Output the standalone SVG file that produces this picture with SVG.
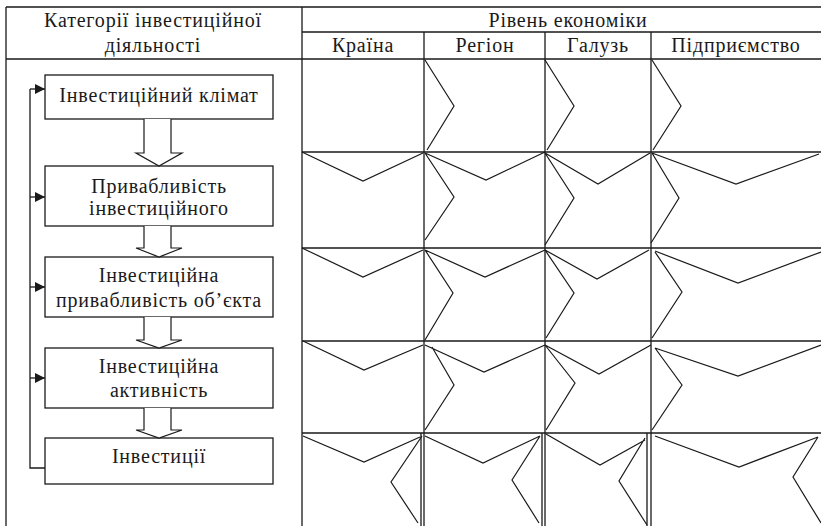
<svg xmlns="http://www.w3.org/2000/svg" width="821" height="526" viewBox="0 0 821 526">
<style>
.t{font-family:'Liberation Serif','DejaVu Serif',serif;font-size:20px;letter-spacing:0.8px;fill:#1a1a1a;text-anchor:middle}
.ln{stroke:#1a1a1a;stroke-width:1.3;fill:none}
.box{fill:#fff;stroke:#1a1a1a;stroke-width:1.3}
.ha{fill:#fff;stroke:#1a1a1a;stroke-width:1.2}
.sh{fill:none;stroke:#1a1a1a;stroke-width:1.2;stroke-linejoin:miter}
</style>
<defs>
<marker id="ah" markerWidth="10" markerHeight="10" refX="10" refY="5" orient="auto" markerUnits="userSpaceOnUse">
<path d="M0,0 L10,5 L0,10 Z" fill="#1a1a1a"/>
</marker>
</defs>
<rect width="821" height="526" fill="#fff"/>
<g id="table">
<path class="ln" d="M6,7 H821 M6,7 V526 M6,59 H821 M302,7 V526 M302,32 H821 M424,32 V59 M545,32 V59 M651,32 V59"/>
<text class="t" x="153" y="27">Категорії інвестиційної</text>
<text class="t" x="153" y="52">діяльності</text>
<text class="t" x="568" y="27">Рівень економіки</text>
<text class="t" x="363" y="52">Країна</text>
<text class="t" x="485" y="52">Регіон</text>
<text class="t" x="598" y="52">Галузь</text>
<text class="t" x="736" y="52">Підприємство</text>
</g>
<g id="grid">
<path class="ln" d="M424,59 V433 M545,59 V433 M651,59 V433 M302,152 H821 M302,248 H821 M302,341 H821 M302,433 H821"/>
<path class="ln" d="M421,433 V526 M424,433 V526 M542,433 V526 M545,433 V526 M647,433 V526 M651,433 V526"/>
<path class="sh" d="M425,60 L454,106 L427,150 M545,60 L574,106 L547,150 M652,60 L681,106 L653,150"/>
<path class="sh" d="M302,152 L363,181 L423,153 M425,153 L486,180 L545,152 M425,153 L454,197 L425,240 M545,153 L574,198 L545,245 M545,153 L598,184 L650,153 M652,153 L679,198 L651,243 M652,153 L736,184 L819,154"/>
<path class="sh" d="M302,248 L363,277 L423,250 M425,250 L485,277 L545,250 M425,250 L453,293 L425,340 M545,250 L574,293 L546,338 M545,250 L597,279 L649,250 M655,251 L738,283 L821,252 M655,252 L682,292 L652,338"/>
<path class="sh" d="M303,341 L364,370 L423,345 M425,345 L484,372 L545,345 M432,347 L454,385 L425,430 M545,345 L575,383 L546,430 M545,345 L599,374 L651,345 M655,348 L682,385 L652,430 M655,348 L738,376 L821,345"/>
<path class="sh" d="M303,436 L364,462 L420,437 M422,436 L391,482 L418,523 M425,436 L483,463 L540,436 M540,436 L512,480 L539,523 M546,434 L600,465 L645,440 M645,438 L619,481 L647,525 M655,436 L739,467 L818,437 M818,437 L793,477 L821,523"/>
</g>
<g id="n1"><rect class="box" x="45" y="75" width="228" height="44"/><text class="t" x="159" y="102">Інвестиційний клімат</text></g>
<g id="n2"><rect class="box" x="45" y="166" width="228" height="60"/><text class="t" x="159" y="193">Привабливість</text><text class="t" x="159" y="215">інвестиційного</text></g>
<g id="n3"><rect class="box" x="45" y="257" width="228" height="60"/><text class="t" x="159" y="282">Інвестиційна</text><text class="t" x="159" y="307">привабливість об’єкта</text></g>
<g id="n4"><rect class="box" x="45" y="348" width="228" height="60"/><text class="t" x="159" y="373">Інвестиційна</text><text class="t" x="159" y="397">активність</text></g>
<g id="n5"><rect class="box" x="45" y="438" width="228" height="46"/><text class="t" x="159" y="463">Інвестиції</text></g>
<g id="connectors">
<path class="ha" d="M144,119 V153 H136 L159,166 L182,153 H171 V119"/>
<path class="ha" d="M144,226 V248 H136 L159,257 L182,248 H171 V226"/>
<path class="ha" d="M144,317 V340 H136 L159,348 L182,340 H171 V317"/>
<path class="ha" d="M144,408 V430 H136 L159,438 L182,430 H171 V408"/>
<path class="ln" d="M45,468 H30 V89"/>
<path class="ln" d="M30,89 H45" marker-end="url(#ah)"/>
<path class="ln" d="M30,197 H45" marker-end="url(#ah)"/>
<path class="ln" d="M30,287 H45" marker-end="url(#ah)"/>
<path class="ln" d="M30,378 H45" marker-end="url(#ah)"/>
</g>
</svg>
